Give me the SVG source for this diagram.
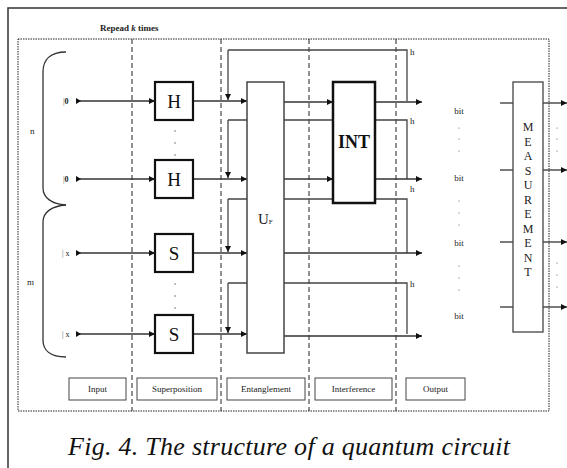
<svg xmlns="http://www.w3.org/2000/svg" width="567" height="468" viewBox="0 0 567 468">
<defs>
<marker id="ar" markerWidth="6" markerHeight="6" refX="6" refY="3" orient="auto" markerUnits="userSpaceOnUse">
<path d="M0,0 L6,3 L0,6 z" fill="#111"/>
</marker>
<style>
.ln{stroke:#333;stroke-width:1.3;fill:none}
.fb{stroke:#444;stroke-width:1.3;fill:none}
.dash{stroke:#222;stroke-width:1;stroke-dasharray:5,3}
.gate{fill:#fff;stroke:#111;stroke-width:2.2}
.gl{font-family:"Liberation Serif",serif;font-size:19px;text-anchor:middle;fill:#111}
.sm{font-family:"Liberation Serif",serif;font-size:9px;fill:#222}
.lbl{fill:#fff;stroke:#444;stroke-width:1}
.lt{font-family:"Liberation Serif",serif;font-size:9px;text-anchor:middle;fill:#222}
.ml{font-family:"Liberation Serif",serif;font-size:12px;text-anchor:middle;fill:#222}
.dot{fill:#555}
</style>
</defs>
<rect width="567" height="468" fill="#fff"/>
<path d="M8,468 V8 H567" fill="none" stroke="#333" stroke-width="1.5"/>
<rect x="18" y="39" width="531" height="372" fill="none" stroke="#222" stroke-width="1" stroke-dasharray="1.5,1"/>
<text x="100" y="31" font-family="'Liberation Serif',serif" font-size="9" font-weight="bold" fill="#222">Repead <tspan font-style="italic">k</tspan>  times</text>

<g id="dividers">
<line class="dash" x1="132" y1="39" x2="132" y2="411"/>
<line class="dash" x1="221" y1="39" x2="221" y2="411"/>
<line class="dash" x1="309" y1="39" x2="309" y2="411"/>
<line class="dash" x1="396" y1="39" x2="396" y2="411"/>
</g>

<g id="braces">
<path class="ln" d="M66,52 C50,52 43,60 43,72 V188 C43,198 52,204 66,205"/>
<path class="ln" d="M66,205 C52,206 43,212 43,222 V340 C43,350 50,357 66,357"/>
<text class="sm" x="30" y="134">n</text>
<text class="sm" x="27" y="285">m</text>
</g>

<g id="connectors">
<path class="fb" d="M228,50 H407 V101"/>
<path class="fb" d="M228,120 H407 V179"/>
<path class="fb" d="M228,199 H407 V253"/>
<path class="fb" d="M228,283 H407 V334"/>
<line class="fb" x1="228" y1="50" x2="228" y2="100" marker-end="url(#ar)"/>
<line class="fb" x1="228" y1="120" x2="228" y2="178" marker-end="url(#ar)"/>
<line class="fb" x1="228" y1="199" x2="228" y2="252" marker-end="url(#ar)"/>
<line class="fb" x1="228" y1="283" x2="228" y2="333" marker-end="url(#ar)"/>
<line class="ln" x1="78" y1="101" x2="155" y2="101" marker-end="url(#ar)"/>
<line class="ln" x1="78" y1="179" x2="155" y2="179" marker-end="url(#ar)"/>
<line class="ln" x1="78" y1="253" x2="155" y2="253" marker-end="url(#ar)"/>
<line class="ln" x1="78" y1="334" x2="155" y2="334" marker-end="url(#ar)"/>
<path d="M76,98 L81,101 L76,104 z" fill="#111"/>
<path d="M76,176 L81,179 L76,182 z" fill="#111"/>
<path d="M76,250 L81,253 L76,256 z" fill="#111"/>
<path d="M76,331 L81,334 L76,337 z" fill="#111"/>
<line class="ln" x1="193" y1="101" x2="247" y2="101" marker-end="url(#ar)"/>
<line class="ln" x1="193" y1="179" x2="247" y2="179" marker-end="url(#ar)"/>
<line class="ln" x1="193" y1="253" x2="247" y2="253" marker-end="url(#ar)"/>
<line class="ln" x1="193" y1="334" x2="247" y2="334" marker-end="url(#ar)"/>
<line class="ln" x1="284" y1="102" x2="333" y2="102" marker-end="url(#ar)"/>
<line class="ln" x1="284" y1="179" x2="333" y2="179" marker-end="url(#ar)"/>
<line class="ln" x1="375" y1="102" x2="422" y2="102" marker-end="url(#ar)"/>
<line class="ln" x1="375" y1="179" x2="422" y2="179" marker-end="url(#ar)"/>
<line class="ln" x1="284" y1="253" x2="422" y2="253" marker-end="url(#ar)"/>
<line class="ln" x1="284" y1="336" x2="422" y2="336" marker-end="url(#ar)"/>
<line class="ln" x1="500" y1="103" x2="513" y2="103"/>
<line class="ln" x1="500" y1="170" x2="513" y2="170"/>
<line class="ln" x1="500" y1="242" x2="513" y2="242"/>
<line class="ln" x1="500" y1="307" x2="513" y2="307"/>
<line class="ln" x1="543" y1="103" x2="567" y2="103" marker-end="url(#ar)"/>
<line class="ln" x1="543" y1="170" x2="567" y2="170" marker-end="url(#ar)"/>
<line class="ln" x1="543" y1="242" x2="567" y2="242" marker-end="url(#ar)"/>
<line class="ln" x1="543" y1="307" x2="567" y2="307" marker-end="url(#ar)"/>
</g>

<g id="inputs" class="sm">
<text x="63" y="104" font-size="8"><tspan fill="#555">|</tspan><tspan font-weight="bold">0</tspan></text>
<text x="63" y="182" font-size="8"><tspan fill="#555">|</tspan><tspan font-weight="bold">0</tspan></text>
<text x="62" y="256" font-size="8"><tspan fill="#555">|</tspan> x</text>
<text x="62" y="337" font-size="8"><tspan fill="#555">|</tspan> x</text>
</g>

<g id="H1"><rect class="gate" x="155" y="82" width="38" height="38"/><text class="gl" x="174" y="108">H</text></g>
<g id="H2"><rect class="gate" x="155" y="160" width="38" height="38"/><text class="gl" x="174" y="186">H</text></g>
<g id="S1"><rect class="gate" x="155" y="234" width="38" height="38"/><text class="gl" x="174" y="260">S</text></g>
<g id="S2"><rect class="gate" x="155" y="315" width="38" height="38"/><text class="gl" x="174" y="341">S</text></g>
<g id="dotsH">
<circle class="dot" cx="175" cy="131" r="0.7"/><circle class="dot" cx="175" cy="143" r="0.7"/><circle class="dot" cx="175" cy="155" r="0.7"/>
<circle class="dot" cx="175" cy="284" r="0.7"/><circle class="dot" cx="175" cy="296" r="0.7"/><circle class="dot" cx="175" cy="308" r="0.7"/>
</g>

<g id="UF">
<rect x="247" y="82" width="37" height="271" fill="#fff" stroke="#444" stroke-width="1.5"/>
<text x="258" y="224" font-family="'Liberation Serif',serif" font-size="15" fill="#222">U<tspan font-size="7">F</tspan></text>
</g>

<g id="INT">
<rect x="333" y="82" width="42" height="121" fill="#fff" stroke="#111" stroke-width="2.5"/>
<text x="354" y="148" font-family="'Liberation Serif',serif" font-size="18" font-weight="bold" text-anchor="middle" fill="#111">INT</text>
</g>

<g id="hlabels" class="sm">
<text x="410" y="55">h</text>
<text x="410" y="124">h</text>
<text x="410" y="192">h</text>
<text x="410" y="287">h</text>
</g>

<g id="bits" class="lt">
<text x="459" y="114">bit</text>
<text x="459" y="181">bit</text>
<text x="459" y="246">bit</text>
<text x="459" y="319">bit</text>
<circle class="dot" cx="459" cy="128" r="0.6"/><circle class="dot" cx="459" cy="139" r="0.6"/><circle class="dot" cx="459" cy="151" r="0.6"/>
<circle class="dot" cx="459" cy="201" r="0.6"/><circle class="dot" cx="459" cy="213" r="0.6"/><circle class="dot" cx="459" cy="225" r="0.6"/>
<circle class="dot" cx="459" cy="266" r="0.6"/><circle class="dot" cx="459" cy="278" r="0.6"/><circle class="dot" cx="459" cy="290" r="0.6"/>
<circle class="dot" cx="557" cy="128" r="0.6"/><circle class="dot" cx="557" cy="139" r="0.6"/><circle class="dot" cx="557" cy="151" r="0.6"/>
<circle class="dot" cx="557" cy="263" r="0.6"/><circle class="dot" cx="557" cy="275" r="0.6"/><circle class="dot" cx="557" cy="287" r="0.6"/>
</g>

<g id="measurement">
<rect x="513" y="82" width="30" height="250" fill="#fff" stroke="#444" stroke-width="1.3"/>
<text class="ml" x="528" y="131">M</text>
<text class="ml" x="528" y="146">E</text>
<text class="ml" x="528" y="160">A</text>
<text class="ml" x="528" y="175">S</text>
<text class="ml" x="528" y="189">U</text>
<text class="ml" x="528" y="204">R</text>
<text class="ml" x="528" y="218">E</text>
<text class="ml" x="528" y="233">M</text>
<text class="ml" x="528" y="247">E</text>
<text class="ml" x="528" y="262">N</text>
<text class="ml" x="528" y="276">T</text>
</g>

<g id="stage-labels">
<g id="lbl-input"><rect class="lbl" x="69" y="378" width="57" height="22"/><text class="lt" x="97.5" y="392">Input</text></g>
<g id="lbl-superposition"><rect class="lbl" x="137" y="378" width="80" height="22"/><text class="lt" x="177" y="392">Superposition</text></g>
<g id="lbl-entanglement"><rect class="lbl" x="227" y="378" width="78" height="22"/><text class="lt" x="266" y="392">Entanglement</text></g>
<g id="lbl-interference"><rect class="lbl" x="315" y="378" width="77" height="22"/><text class="lt" x="353.5" y="392">Interference</text></g>
<g id="lbl-output"><rect class="lbl" x="406" y="378" width="59" height="22"/><text class="lt" x="435.5" y="392">Output</text></g>
</g>

<text x="68" y="455" font-family="'Liberation Serif',serif" font-size="26" font-style="italic" fill="#111" textLength="442" lengthAdjust="spacing">Fig. 4. The structure of a quantum circuit</text>
</svg>
